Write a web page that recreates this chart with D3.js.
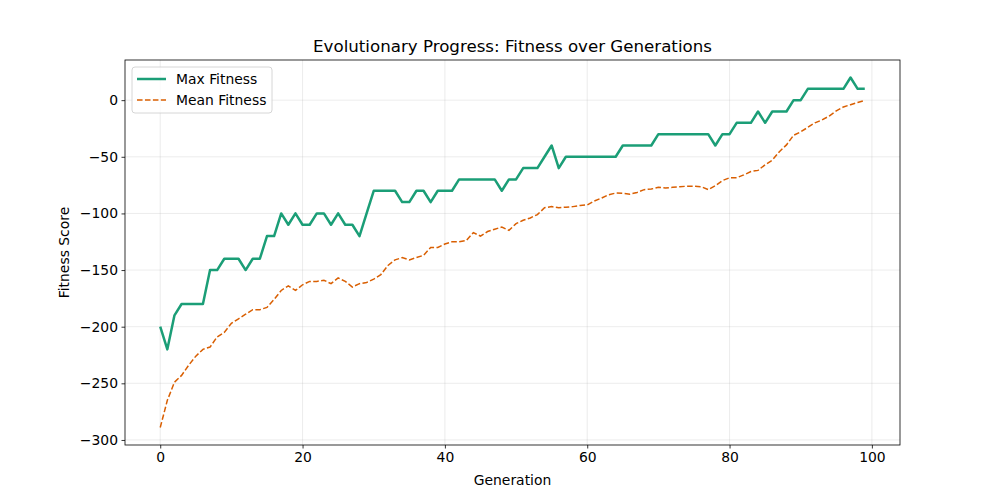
<!DOCTYPE html>
<html>
<head>
<meta charset="utf-8">
<script src="https://cdn.jsdelivr.net/npm/d3@7"></script>
<style>
  body { margin: 0; background: #fff; }
  svg { font-family: "DejaVu Sans", sans-serif; }
</style>
</head>
<body>
<div id="chart"></div>
<script>
// data
var generations = d3.range(0, 100);
var maxFitness = [
  -200, -220, -190, -180, -180, -180, -180, -150, -150, -140,
  -140, -140, -150, -140, -140, -120, -120, -100, -110, -100,
  -110, -110, -100, -100, -110, -100, -110, -110, -120, -100,
  -80, -80, -80, -80, -90, -90, -80, -80, -90, -80,
  -80, -80, -70, -70, -70, -70, -70, -70, -80, -70,
  -70, -60, -60, -60, -50, -40, -60, -50, -50, -50,
  -50, -50, -50, -50, -50, -40, -40, -40, -40, -40,
  -30, -30, -30, -30, -30, -30, -30, -30, -40, -30,
  -30, -20, -20, -20, -10, -20, -10, -10, -10, 0,
  0, 10, 10, 10, 10, 10, 10, 20, 10, 10
];
var meanFitness = [
  -289, -265, -249, -243, -234, -226, -220, -218, -209, -205,
  -197, -193, -189, -185, -185, -183, -176, -168, -164, -168,
  -163, -160, -160, -159, -162, -157, -160, -165, -162, -161,
  -158, -154, -146, -141, -139, -141, -139, -137, -130, -130,
  -127, -125, -125, -124, -117, -120, -116, -114, -112, -115,
  -109, -106, -104, -101, -95, -94, -95, -94.5, -94, -93,
  -92.5, -89, -86.5, -83.5, -82, -82.3, -83, -81.5, -79, -78.5,
  -77, -77.6, -77, -76.4, -76, -76, -76.4, -79, -75.5, -71,
  -68.5, -68.5, -66, -63, -62, -57, -53, -45.5, -39.5, -31,
  -28, -24, -20, -17.5, -14, -9.5, -6, -4, -2, -0.3
];
var xTicks = [0, 20, 40, 60, 80, 100];
var yTicks = [-300, -250, -200, -150, -100, -50, 0];

var width = 1000, height = 500;
var margin = {top: 60, right: 100, bottom: 55, left: 125};
var innerW = width - margin.left - margin.right;
var innerH = height - margin.top - margin.bottom;

var svg = d3.select("#chart").append("svg")
    .attr("width", width)
    .attr("height", height);

var g = svg.append("g")
    .attr("transform", "translate(" + margin.left + "," + margin.top + ")");

// matplotlib style 5% padding
var xMin = 0, xMax = 99;
var yMin = d3.min(meanFitness), yMax = d3.max(maxFitness);
var xPad = (xMax - xMin) * 0.05, yPad = (yMax - yMin) * 0.05;

var x = d3.scaleLinear().domain([xMin - xPad, xMax + xPad]).range([0, innerW]);
var y = d3.scaleLinear().domain([yMin - yPad, yMax + yPad]).range([innerH, 0]);

// grid
g.append("g").selectAll("line").data(xTicks).enter().append("line")
    .attr("x1", d => x(d)).attr("x2", d => x(d))
    .attr("y1", 0).attr("y2", innerH)
    .attr("stroke", "#b0b0b0").attr("stroke-opacity", 0.3).attr("stroke-width", 0.8);
g.append("g").selectAll("line").data(yTicks).enter().append("line")
    .attr("x1", 0).attr("x2", innerW)
    .attr("y1", d => y(d)).attr("y2", d => y(d))
    .attr("stroke", "#b0b0b0").attr("stroke-opacity", 0.3).attr("stroke-width", 0.8);

var fmt = function(d) { return d < 0 ? "\u2212" + Math.abs(d) : String(d); };

// axes
var xAxis = g.append("g")
    .attr("transform", "translate(0," + innerH + ")")
    .call(d3.axisBottom(x).tickValues(xTicks).tickFormat(fmt).tickSize(3.5).tickPadding(3.5));
var yAxis = g.append("g")
    .call(d3.axisLeft(y).tickValues(yTicks).tickFormat(fmt).tickSize(3.5).tickPadding(3.5));
[xAxis, yAxis].forEach(function(a) {
    a.select(".domain").remove();
    a.selectAll("text").attr("font-size", "13.9px").attr("fill", "#000")
        .attr("font-family", "DejaVu Sans, sans-serif");
    a.selectAll("line").attr("stroke", "#000").attr("stroke-width", 0.8);
});

// frame
g.append("rect")
    .attr("width", innerW).attr("height", innerH)
    .attr("fill", "none").attr("stroke", "#000").attr("stroke-width", 0.8);

// lines
var lineMax = d3.line()
    .x(function(d, i) { return x(generations[i]); })
    .y(function(d) { return y(d); });

g.append("path")
    .datum(maxFitness)
    .attr("fill", "none")
    .attr("stroke", "#1b9e77")
    .attr("stroke-width", 2.5)
    .attr("stroke-linejoin", "round")
    .attr("d", lineMax);

g.append("path")
    .datum(meanFitness)
    .attr("fill", "none")
    .attr("stroke", "#d95f02")
    .attr("stroke-width", 1.5)
    .attr("stroke-dasharray", "5.55,2.4")
    .attr("d", lineMax);

// title and labels
svg.append("text")
    .attr("x", margin.left + innerW / 2).attr("y", 52)
    .attr("text-anchor", "middle")
    .attr("font-size", "16.67px")
    .text("Evolutionary Progress: Fitness over Generations");

svg.append("text")
    .attr("x", margin.left + innerW / 2).attr("y", 485)
    .attr("text-anchor", "middle")
    .attr("font-size", "13.9px")
    .text("Generation");

svg.append("text")
    .attr("transform", "translate(69," + (margin.top + innerH / 2) + ") rotate(-90)")
    .attr("text-anchor", "middle")
    .attr("font-size", "13.9px")
    .text("Fitness Score");

// legend
var legend = g.append("g").attr("transform", "translate(7,7)");
legend.append("rect")
    .attr("width", 140).attr("height", 46)
    .attr("rx", 3)
    .attr("fill", "#fff").attr("fill-opacity", 0.8)
    .attr("stroke", "#ccc").attr("stroke-width", 0.8);

var items = [
    {label: "Max Fitness", color: "#1b9e77", w: 2.5, dash: null},
    {label: "Mean Fitness", color: "#d95f02", w: 1.5, dash: "5.55,2.4"}
];
items.forEach(function(it, i) {
    var yy = 12 + i * 21;
    legend.append("line")
        .attr("x1", 5).attr("x2", 34).attr("y1", yy).attr("y2", yy)
        .attr("stroke", it.color).attr("stroke-width", it.w)
        .attr("stroke-dasharray", it.dash);
    legend.append("text")
        .attr("x", 44).attr("y", yy + 5)
        .attr("font-size", "13.9px")
        .text(it.label);
});
</script>
</body>
</html>
